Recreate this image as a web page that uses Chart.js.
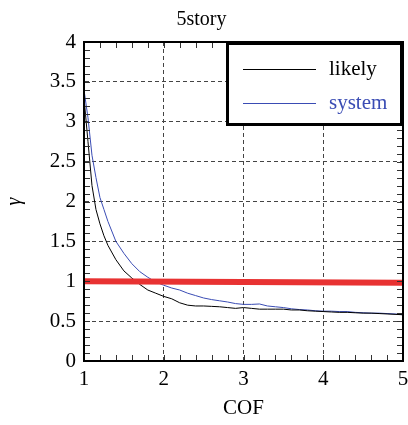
<!DOCTYPE html>
<html>
<head>
<meta charset="utf-8">
<script src="https://cdn.jsdelivr.net/npm/chart.js@4.4.0/dist/chart.umd.min.js"></script>
<style>
html, body { margin: 0; padding: 0; background: #fff; }
#wrap { width: 408px; height: 425px; }
</style>
</head>
<body>
<div id="wrap"><canvas id="gammaChart" width="408" height="425"></canvas></div>
<script>
var cof = [1.0, 1.05, 1.1, 1.15, 1.2, 1.25, 1.3, 1.4, 1.5, 1.6, 1.7, 1.8, 1.9, 2.0,
    2.1, 2.2, 2.3, 2.4, 2.5, 2.6, 2.7, 2.8, 2.9, 3.0, 3.1, 3.2, 3.3, 3.4, 3.5, 3.6,
    3.7, 3.8, 3.9, 4.0, 4.1, 4.2, 4.3, 4.4, 4.5, 4.6, 4.7, 4.8, 4.9, 5.0];
var likely = [3.3, 2.75, 2.2, 1.9, 1.72, 1.57, 1.45, 1.27, 1.13, 1.04, 0.96, 0.89, 0.85, 0.81,
    0.78, 0.73, 0.70, 0.69, 0.69, 0.685, 0.68, 0.67, 0.66, 0.67, 0.66, 0.65, 0.65, 0.65, 0.65, 0.64,
    0.64, 0.63, 0.625, 0.62, 0.615, 0.61, 0.61, 0.605, 0.60, 0.60, 0.595, 0.59, 0.585, 0.58];
var system = [3.4, 3.05, 2.58, 2.3, 2.05, 1.9, 1.75, 1.5, 1.35, 1.22, 1.12, 1.05, 0.99, 0.95,
    0.915, 0.89, 0.85, 0.82, 0.79, 0.77, 0.755, 0.74, 0.72, 0.71, 0.71, 0.715, 0.69, 0.68, 0.67, 0.655,
    0.645, 0.64, 0.63, 0.625, 0.625, 0.62, 0.62, 0.61, 0.605, 0.60, 0.60, 0.595, 0.59, 0.58];
var refX = [1, 5];
var refY = [1.0, 0.98];

var serif = '"Liberation Serif", "Times New Roman", serif';
var blue = '#3a4cb4';

function pairs(xs, ys) {
    return xs.map(function (x, i) { return { x: x, y: ys[i] }; });
}

// frame, inward minor ticks and the boxed legend
var framePlugin = {
    id: 'frame',
    afterDraw: function (chart) {
        var c = chart.ctx, a = chart.chartArea, xs = chart.scales.x, ys = chart.scales.y;
        c.save();
        c.strokeStyle = '#333';
        c.lineWidth = 1;
        c.beginPath();
        for (var i = 0; i <= 20; i++) {
            var px = Math.round(xs.getPixelForValue(1 + i * 0.2)) + 0.5;
            c.moveTo(px, a.bottom); c.lineTo(px, a.bottom - 6);
            c.moveTo(px, a.top); c.lineTo(px, a.top + 6);
        }
        for (var j = 0; j <= 40; j++) {
            var py = Math.round(ys.getPixelForValue(j * 0.1)) + 0.5;
            c.moveTo(a.left, py); c.lineTo(a.left + 6, py);
            c.moveTo(a.right, py); c.lineTo(a.right - 6, py);
        }
        c.stroke();

        c.strokeStyle = '#000';
        c.lineWidth = 2;
        c.strokeRect(a.left, a.top, a.right - a.left, a.bottom - a.top);

        // legend
        var bx = a.right - 177, by = a.top, bw = 177, bh = 84;
        c.fillStyle = '#fff';
        c.fillRect(bx, by, bw, bh);
        c.lineWidth = 3;
        c.strokeRect(bx + 1.5, by + 1.5, bw - 3, bh - 3);
        var items = chart.data.datasets.filter(function (d) { return d.label; });
        c.font = '21px ' + serif;
        c.textBaseline = 'middle';
        items.forEach(function (d, k) {
            var ly = by + 27 + k * 34;
            c.strokeStyle = d.borderColor;
            c.lineWidth = 1;
            c.beginPath();
            c.moveTo(bx + 17, ly + 0.5); c.lineTo(bx + 90, ly + 0.5);
            c.stroke();
            c.fillStyle = d.legendText;
            c.fillText(d.label, bx + 103, ly);
        });
        c.restore();
    }
};

var ctx = document.getElementById('gammaChart').getContext('2d');
var chart = new Chart(ctx, {
    type: 'line',
    data: {
        datasets: [{
            data: pairs(refX, refY),
            borderColor: '#e83232',
            borderWidth: 6,
            pointRadius: 0,
            order: 0
        }, {
            label: 'likely',
            legendText: '#000',
            data: pairs(cof, likely),
            borderColor: '#000',
            borderWidth: 1,
            pointRadius: 0,
            tension: 0,
            order: 1
        }, {
            label: 'system',
            legendText: blue,
            data: pairs(cof, system),
            borderColor: blue,
            borderWidth: 1,
            pointRadius: 0,
            tension: 0,
            order: 1
        }]
    },
    options: {
        responsive: false,
        animation: false,
        layout: { padding: { right: 5 } },
        plugins: {
            legend: { display: false },
            tooltip: { enabled: false },
            title: {
                display: true,
                text: '5story',
                color: '#000',
                font: { family: serif, size: 20, weight: 'normal' },
                padding: { top: 8, bottom: 10 }
            }
        },
        scales: {
            x: {
                type: 'linear',
                min: 1,
                max: 5,
                afterFit: function (s) { s.height = 64; s.paddingLeft = 0; s.paddingRight = 0; },
                ticks: {
                    stepSize: 1,
                    color: '#000',
                    padding: 6,
                    maxRotation: 0,
                    font: { family: serif, size: 21 },
                    callback: function (v) { return String(v); }
                },
                grid: { color: '#444', lineWidth: 1, drawTicks: false },
                border: { color: '#000', width: 2, dash: [4, 3] },
                title: {
                    display: true,
                    text: 'COF',
                    color: '#000',
                    font: { family: serif, size: 21 },
                    padding: { top: 2 }
                }
            },
            y: {
                min: 0,
                max: 4,
                afterFit: function (s) { s.width = 84; s.paddingTop = 0; s.paddingBottom = 0; },
                ticks: {
                    stepSize: 0.5,
                    color: '#000',
                    padding: 8,
                    font: { family: serif, size: 21 },
                    callback: function (v) { return String(v); }
                },
                grid: { color: '#444', lineWidth: 1, drawTicks: false },
                border: { color: '#000', width: 2, dash: [4, 3] },
                title: {
                    display: true,
                    text: 'γ',
                    color: '#000',
                    font: { family: serif, size: 20, style: 'italic' },
                    padding: { top: 3 }
                }
            }
        }
    },
    plugins: [framePlugin]
});
</script>
</body>
</html>
